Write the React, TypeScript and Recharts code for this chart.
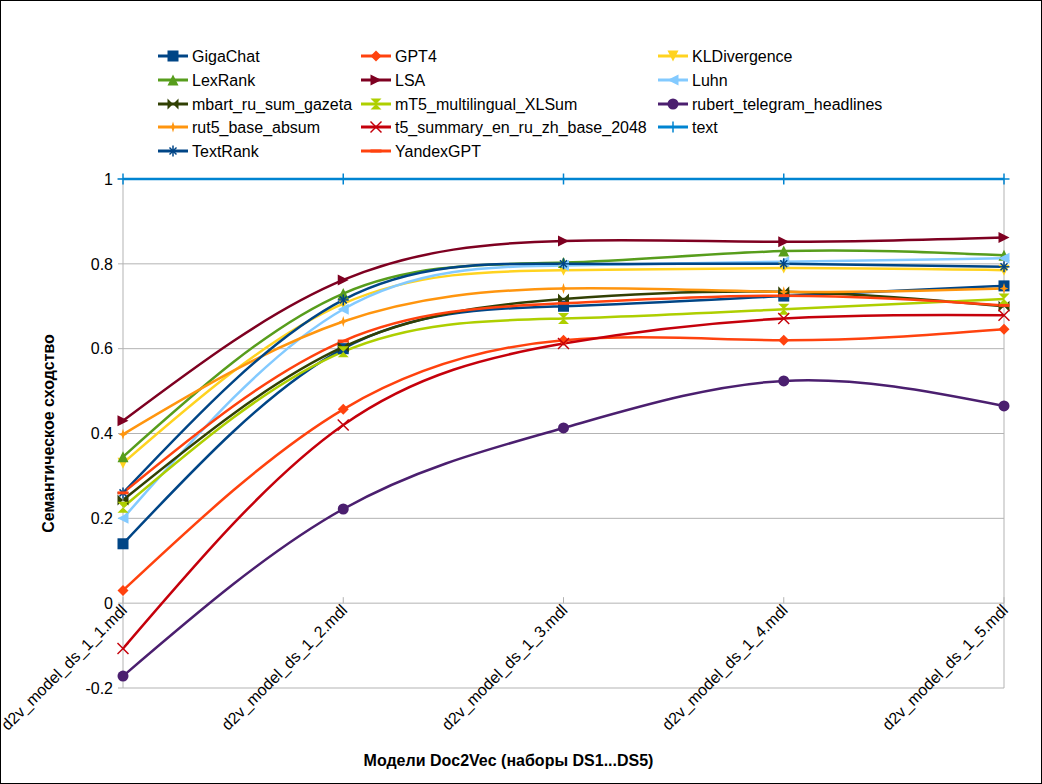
import { LineChart, Line, XAxis, YAxis, CartesianGrid, ReferenceLine, Label } from 'recharts';

const categories = [
  'd2v_model_ds_1_1.mdl',
  'd2v_model_ds_1_2.mdl',
  'd2v_model_ds_1_3.mdl',
  'd2v_model_ds_1_4.mdl',
  'd2v_model_ds_1_5.mdl',
];

const gigaChat = [0.14, 0.6, 0.7, 0.724, 0.748];
const gpt4 = [0.03, 0.457, 0.62, 0.62, 0.646];
const klDivergence = [0.33, 0.706, 0.785, 0.79, 0.785];
const lexRank = [0.345, 0.73, 0.803, 0.83, 0.82];
const lsa = [0.43, 0.762, 0.854, 0.852, 0.862];
const luhn = [0.2, 0.693, 0.796, 0.805, 0.813];
const mbart = [0.243, 0.604, 0.717, 0.734, 0.7];
const mt5 = [0.226, 0.593, 0.671, 0.693, 0.717];
const rubert = [-0.172, 0.222, 0.413, 0.524, 0.465];
const rut5 = [0.398, 0.664, 0.742, 0.734, 0.742];
const t5summary = [-0.107, 0.42, 0.612, 0.671, 0.679];
const textRef = [1, 1, 1, 1, 1];
const textRank = [0.26, 0.715, 0.8, 0.8, 0.793];
const yandexGpt = [0.26, 0.618, 0.707, 0.725, 0.702];

const yTicks = [-0.2, 0, 0.2, 0.4, 0.6, 0.8, 1];

const series = [
  { name: 'GigaChat', values: gigaChat, color: '#004586', shape: 'square' },
  { name: 'GPT4', values: gpt4, color: '#ff420e', shape: 'diamond' },
  { name: 'KLDivergence', values: klDivergence, color: '#ffd320', shape: 'down' },
  { name: 'LexRank', values: lexRank, color: '#579d1c', shape: 'up' },
  { name: 'LSA', values: lsa, color: '#7e0021', shape: 'right' },
  { name: 'Luhn', values: luhn, color: '#83caff', shape: 'left' },
  { name: 'mbart_ru_sum_gazeta', values: mbart, color: '#314004', shape: 'bowtie' },
  { name: 'mT5_multilingual_XLSum', values: mt5, color: '#aecf00', shape: 'sandglass' },
  { name: 'rubert_telegram_headlines', values: rubert, color: '#4b1f6f', shape: 'circle' },
  { name: 'rut5_base_absum', values: rut5, color: '#ff950e', shape: 'star' },
  { name: 't5_summary_en_ru_zh_base_2048', values: t5summary, color: '#c5000b', shape: 'x' },
  { name: 'text', values: textRef, color: '#0084d1', shape: 'plus' },
  { name: 'TextRank', values: textRank, color: '#004586', shape: 'asterisk' },
  { name: 'YandexGPT', values: yandexGpt, color: '#ff420e', shape: 'hbar' },
];

const data = categories.map((cat, i) => {
  const row: Record<string, string | number> = { cat };
  series.forEach((s) => {
    row[s.name] = s.values[i];
  });
  return row;
});

const W = 1042;
const H = 784;
const TOP = 179;
const XAXIS_H = 96;
const PLOT_H = H - TOP - XAXIS_H;
const ZERO_OFF = (PLOT_H * 0.2) / 1.2;
const GRID = '#b3b3b3';
const FONT = '"Liberation Sans", Arial, sans-serif';

function Marker({ shape, x, y, color }: { shape: string; x: number; y: number; color: string }) {
  const s = 5.5;
  const poly = (pts: number[][]) => (
    <polygon points={pts.map((p) => `${x + p[0]},${y + p[1]}`).join(' ')} fill={color} />
  );
  switch (shape) {
    case 'square':
      return <rect x={x - s} y={y - s} width={2 * s} height={2 * s} fill={color} />;
    case 'diamond':
      return poly([[0, -s], [s, 0], [0, s], [-s, 0]]);
    case 'down':
      return poly([[-s, -s], [s, -s], [0, s]]);
    case 'up':
      return poly([[-s, s], [s, s], [0, -s]]);
    case 'right':
      return poly([[-s, -s], [s, 0], [-s, s]]);
    case 'left':
      return poly([[s, -s], [-s, 0], [s, s]]);
    case 'bowtie':
      return poly([[-s, -s], [s, s], [s, -s], [-s, s]]);
    case 'sandglass':
      return poly([[-s, -s], [s, -s], [-s, s], [s, s]]);
    case 'circle':
      return <circle cx={x} cy={y} r={s} fill={color} />;
    case 'star':
      return poly([[0, -s], [1.3, -1.3], [s * 0.8, 0], [1.3, 1.3], [0, s], [-1.3, 1.3], [-s * 0.8, 0], [-1.3, -1.3]]);
    case 'x':
      return (
        <g stroke={color} strokeWidth={1.5}>
          <line x1={x - s} y1={y - s} x2={x + s} y2={y + s} />
          <line x1={x - s} y1={y + s} x2={x + s} y2={y - s} />
        </g>
      );
    case 'plus':
      return (
        <g stroke={color} strokeWidth={1.5}>
          <line x1={x - s} y1={y} x2={x + s} y2={y} />
          <line x1={x} y1={y - s} x2={x} y2={y + s} />
        </g>
      );
    case 'asterisk':
      return (
        <g stroke={color} strokeWidth={1.5}>
          <line x1={x - s} y1={y} x2={x + s} y2={y} />
          <line x1={x} y1={y - s} x2={x} y2={y + s} />
          <line x1={x - 3.5} y1={y - 3.5} x2={x + 3.5} y2={y + 3.5} />
          <line x1={x - 3.5} y1={y + 3.5} x2={x + 3.5} y2={y - 3.5} />
        </g>
      );
    default:
      return <rect x={x - s} y={y - 1.5} width={2 * s} height={3} fill={color} />;
  }
}

function XTick(props: any) {
  const { x, y, payload } = props;
  const y0 = y - ZERO_OFF;
  return (
    <g>
      <line x1={x} x2={x} y1={y0 - 6} y2={y0} stroke={GRID} />
      <text
        transform={`translate(${x + 5},${y0 + 8}) rotate(-45)`}
        textAnchor="end"
        fontSize={16}
        fill="#000"
      >
        {payload.value}
      </text>
    </g>
  );
}

const legendCols = [192, 395, 692];
const legendRows = [56, 80, 104, 127, 151];

function ChartLegend() {
  return (
    <svg width={W} height={TOP} style={{ position: 'absolute', left: 0, top: 0 }}>
      {series.map((s, i) => {
        const tx = legendCols[i % 3];
        const ty = legendRows[Math.floor(i / 3)];
        return (
          <g key={s.name}>
            <line x1={tx - 34} x2={tx - 4} y1={ty} y2={ty} stroke={s.color} strokeWidth={3} />
            <Marker shape={s.shape} x={tx - 19} y={ty} color={s.color} />
            <text x={tx} y={ty + 6} fontSize={16} fill="#000">
              {s.name}
            </text>
          </g>
        );
      })}
    </svg>
  );
}

export default function App() {
  return (
    <div style={{ position: 'absolute', left: 0, top: 0, width: W, height: H, background: '#fff', fontFamily: FONT }}>
      <LineChart width={W} height={H} data={data} margin={{ top: TOP, right: 38, bottom: 0, left: 0 }}>
        <CartesianGrid horizontal vertical={false} stroke={GRID} />
        <XAxis
          dataKey="cat"
          height={XAXIS_H}
          axisLine={false}
          tickLine={false}
          tickSize={0}
          tickMargin={0}
          interval={0}
          tick={<XTick />}
        >
          <Label
            value="Модели Doc2Vec (наборы DS1...DS5)"
            position="insideBottom"
            offset={18}
            dx={-55}
            style={{ fontWeight: 'bold', fontSize: 16, fill: '#000' }}
          />
        </XAxis>
        <YAxis
          width={123}
          domain={[-0.2, 1]}
          ticks={yTicks}
          stroke={GRID}
          tickSize={5}
          tickMargin={5}
          tick={{ fontSize: 16, fill: '#000' }}
        >
          <Label
            value="Семантическое сходство"
            angle={-90}
            position="insideLeft"
            offset={48}
            style={{ fontWeight: 'bold', fontSize: 16, fill: '#000', textAnchor: 'middle' }}
          />
        </YAxis>
        <ReferenceLine x={categories[categories.length - 1]} stroke={GRID} />
        {series.map((s) => (
          <Line
            key={s.name}
            type="natural"
            dataKey={s.name}
            stroke={s.color}
            strokeWidth={2.5}
            isAnimationActive={false}
            dot={(p: any) => <Marker key={`${s.name}-${p.index}`} shape={s.shape} x={p.cx} y={p.cy} color={s.color} />}
            activeDot={false}
          />
        ))}
      </LineChart>
      <ChartLegend />
      <div
        style={{
          position: 'absolute',
          left: 0,
          top: 0,
          width: W,
          height: H,
          border: '1px solid #000',
          boxSizing: 'border-box',
          pointerEvents: 'none',
        }}
      />
    </div>
  );
}
